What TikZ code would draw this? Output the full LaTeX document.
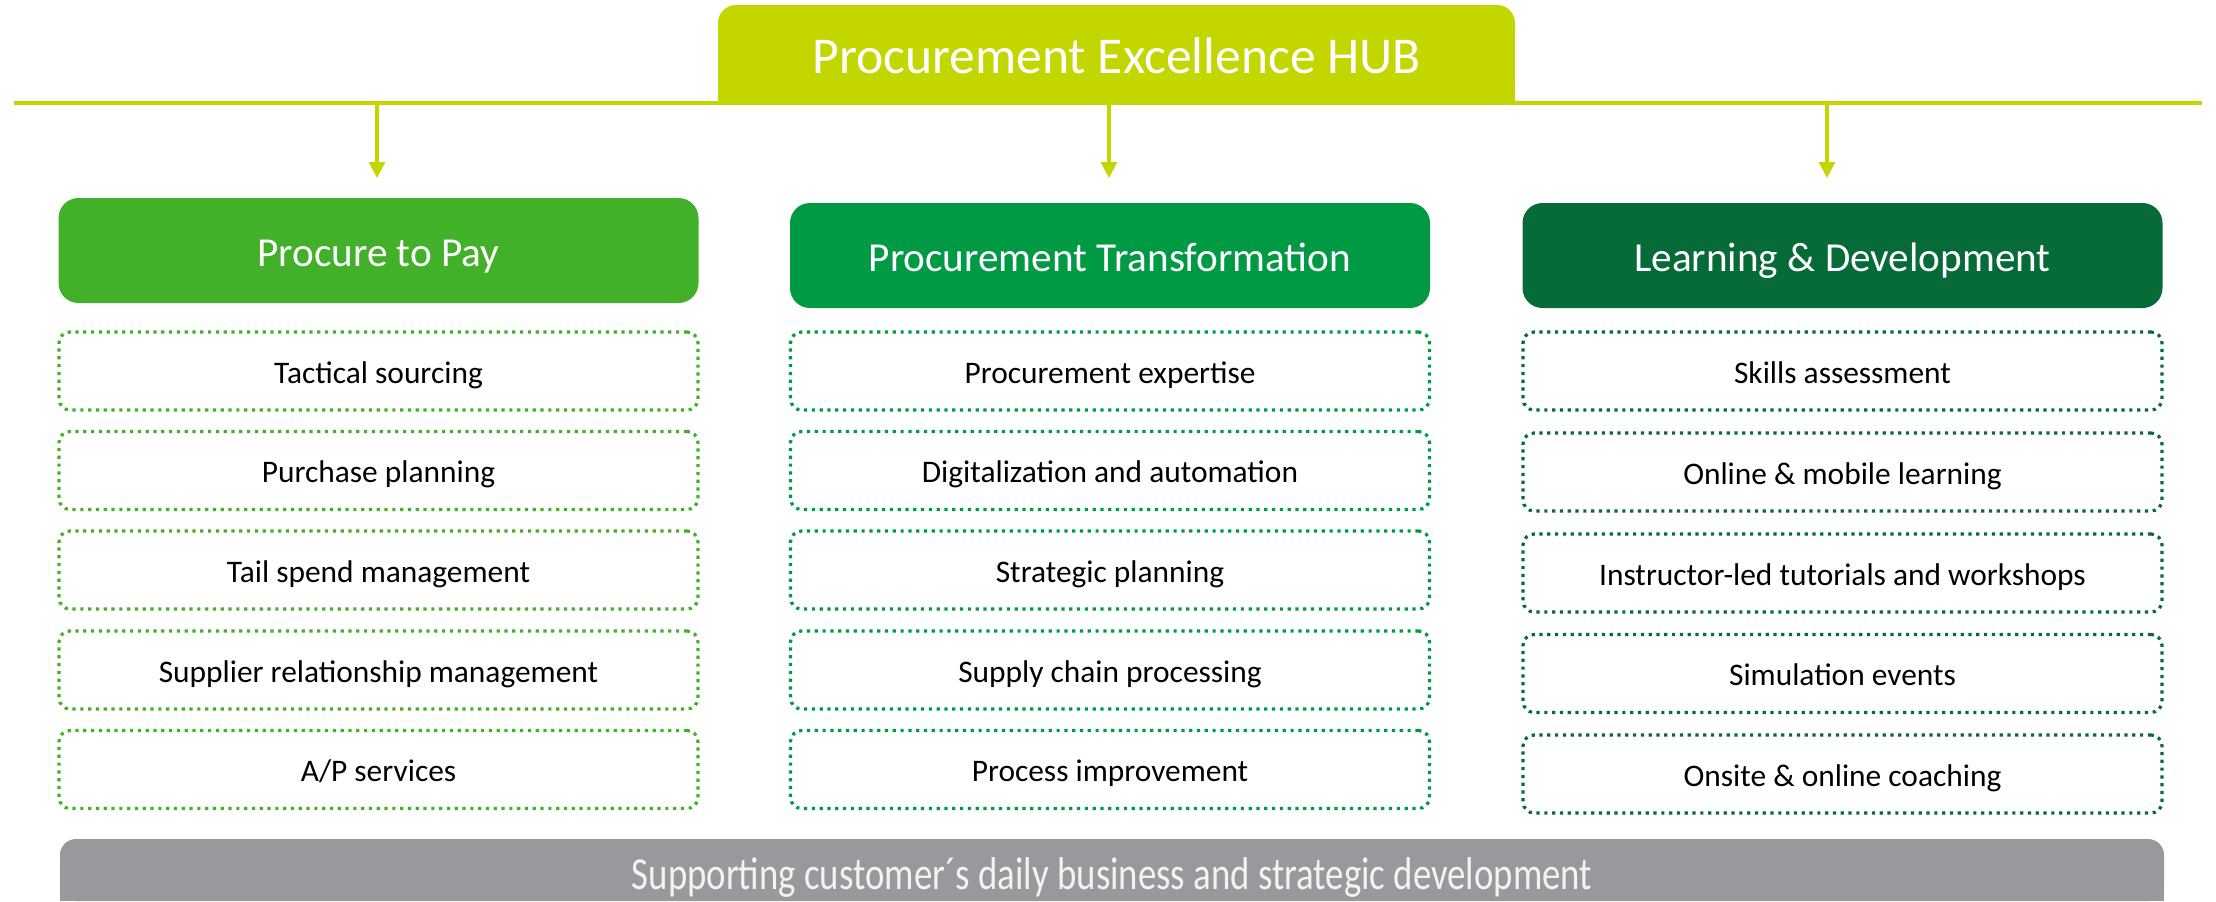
\documentclass[tikz,border=0pt]{standalone}
\usepackage{fontspec}
\setmainfont{Carlito}
\usetikzlibrary{arrows.meta}

\definecolor{hublime}{HTML}{C4D600}
\definecolor{paygreen}{HTML}{43B02A}
\definecolor{transgreen}{HTML}{009A44}
\definecolor{learngreen}{HTML}{066B38}
\definecolor{basegray}{HTML}{97999C}

\begin{document}
\begin{tikzpicture}[x=0.5pt, y=-0.5pt,
    head/.style={fill=#1, rounded corners=10pt, minimum width=320pt, minimum height=52.5pt,
        text=white, font=\fontsize{20.6}{24}\selectfont, text height=15.5pt, text depth=0pt},
    item/.style={draw=#1, line width=1.6pt, dash pattern=on 1.6pt off 2.3pt, rounded corners=5.5pt,
        minimum width=319.5pt, minimum height=39pt,
        font=\fontsize{15.7}{19}\selectfont, text height=12pt, text depth=0pt},
    link/.style={hublime, line width=1.6pt, -{Triangle[length=8pt,width=8pt]}}]
                \useasboundingbox (0,0) rectangle (2216,901);

                % hub and bar
                \fill[hublime] (718,54) rectangle (1515,103);
                \node[fill=hublime, rounded corners=9pt, minimum width=398.5pt, minimum height=49pt,
                    text=white, font=\fontsize{25.8}{30}\selectfont, text height=19pt, text depth=0pt]
                    (hub) at (1116.5,54) {Procurement Excellence HUB};
                \coordinate (barL) at (14,103);
                \coordinate (barR) at (2202,103);
                \draw[hublime, line width=2pt] (barL) -- (barR);

                \coordinate (ar1) at (377,103);
                \coordinate (ar1t) at (377,178);
                \coordinate (ar2) at (1109,103);
                \coordinate (ar2t) at (1109,178);
                \coordinate (ar3) at (1827,103);
                \coordinate (ar3t) at (1827,178);
                \draw[link] (ar1) -- (ar1t);
                \draw[link] (ar2) -- (ar2t);
                \draw[link] (ar3) -- (ar3t);

                % headers
                \node[head=paygreen] (pay) at (378.5,250.5) {Procure to Pay};
                \node[head=transgreen] (trans) at (1110,255.5) {Procurement Transformation};
                \node[head=learngreen] (learn) at (1842.5,255.5) {Learning \& Development};

                % procure to pay
                \node[item=paygreen] (pay1) at (378.5,371) {Tactical sourcing};
                \node[item=paygreen] (pay2) at (378.5,470.5) {Purchase planning};
                \node[item=paygreen] (pay3) at (378.5,570) {Tail spend management};
                \node[item=paygreen] (pay4) at (378.5,670) {Supplier relationship management};
                \node[item=paygreen] (pay5) at (378.5,769.5) {A/P services};

                % transformation
                \node[item=transgreen] (trans1) at (1110,371) {Procurement expertise};
                \node[item=transgreen] (trans2) at (1110,470.5) {Digitalization and automation};
                \node[item=transgreen] (trans3) at (1110,570) {Strategic planning};
                \node[item=transgreen] (trans4) at (1110,670) {Supply chain processing};
                \node[item=transgreen] (trans5) at (1110,769.5) {Process improvement};

                % learning
                \node[item=learngreen] (learn1) at (1842.5,371) {Skills assessment};
                \node[item=learngreen] (learn2) at (1842.5,472) {Online \& mobile learning};
                \node[item=learngreen] (learn3) at (1842.5,573) {Instructor-led tutorials and workshops};
                \node[item=learngreen] (learn4) at (1842.5,673.5) {Simulation events};
                \node[item=learngreen] (learn5) at (1842.5,774) {Onsite \& online coaching};

                % bottom bar
                \fill[basegray, rounded corners=8pt] (60,839) rectangle (2164,901);
                \fill[basegray] (60,870) rectangle (2164,901);
                \node[anchor=base, text=white!88!basegray, font=\fontsize{23}{27}\selectfont, inner sep=0pt]
                    (support) at (1112,889) {\scalebox{0.8}[1]{Supporting customer´s daily business and strategic development}};
            \end{tikzpicture}
\end{document}
